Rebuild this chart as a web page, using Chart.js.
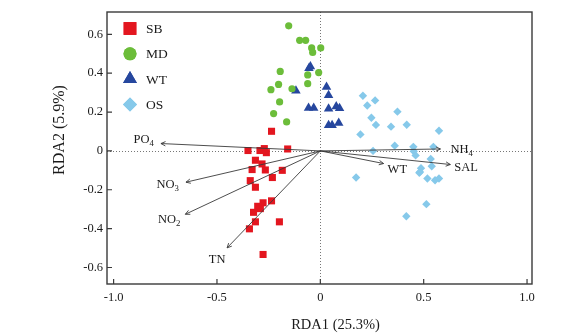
<!DOCTYPE html>
<html>
<head>
<meta charset="utf-8">
<script src="https://cdn.jsdelivr.net/npm/chart.js@4.4.0/dist/chart.umd.min.js"></script>
<style>
  html, body { margin: 0; padding: 0; background: #fff; }
  #wrap { width: 585px; height: 336px; position: relative; }
</style>
</head>
<body>
<div id="wrap"><canvas id="rdaChart"></canvas></div>
<script>
// site scores [RDA1, RDA2]
const sbPoints = [[-0.236, 0.101], [-0.350, 0.002], [-0.292, 0.002], [-0.271, 0.012], [-0.261, -0.009],
  [-0.158, 0.010], [-0.314, -0.048], [-0.282, -0.067], [-0.330, -0.096], [-0.266, -0.098],
  [-0.184, -0.100], [-0.232, -0.137], [-0.339, -0.153], [-0.314, -0.187], [-0.236, -0.257],
  [-0.277, -0.267], [-0.303, -0.285], [-0.290, -0.297], [-0.323, -0.316], [-0.314, -0.365],
  [-0.198, -0.365], [-0.343, -0.401], [-0.277, -0.533]];
const mdPoints = [[-0.153, 0.644], [-0.100, 0.569], [-0.071, 0.569], [-0.042, 0.530], [-0.037, 0.507],
  [0.002, 0.530], [-0.194, 0.409], [-0.008, 0.403], [-0.061, 0.391], [-0.202, 0.342],
  [-0.061, 0.346], [-0.239, 0.315], [-0.137, 0.320], [-0.197, 0.252], [-0.226, 0.192], [-0.163, 0.149]];
const wtPoints = [[-0.048, 0.435], [-0.055, 0.425], [-0.118, 0.310], [0.030, 0.329], [0.040, 0.286],
  [-0.057, 0.221], [-0.032, 0.221], [0.040, 0.217], [0.077, 0.228], [0.093, 0.219],
  [0.040, 0.132], [0.057, 0.132], [0.089, 0.144]];
const osPoints = [[0.206, 0.284], [0.265, 0.260], [0.227, 0.234], [0.373, 0.202], [0.247, 0.171],
  [0.269, 0.134], [0.342, 0.125], [0.418, 0.135], [0.574, 0.104], [0.194, 0.085],
  [0.360, 0.027], [0.450, 0.021], [0.547, 0.021], [0.255, 0.000], [0.452, -0.002],
  [0.461, -0.023], [0.534, -0.041], [0.539, -0.079], [0.487, -0.089], [0.482, -0.108],
  [0.479, -0.113], [0.518, -0.142], [0.555, -0.151], [0.574, -0.142], [0.173, -0.137],
  [0.513, -0.274], [0.416, -0.336]];

// environmental vectors
const envNames = ['PO4', 'NO3', 'NO2', 'TN', 'NH4', 'SAL', 'WT'];
const envX = [-0.771, -0.650, -0.653, -0.451, 0.581, 0.629, 0.306];
const envY = [0.038, -0.161, -0.326, -0.499, 0.010, -0.070, -0.065];

const xTicks = [-1.0, -0.5, 0, 0.5, 1.0];
const yTicks = [-0.6, -0.4, -0.2, 0, 0.2, 0.4, 0.6];
const xTitle = 'RDA1 (25.3%)';
const yTitle = 'RDA2 (5.9%)';

const SERIF = '"Liberation Serif", "Times New Roman", serif';

// where each vector label sits relative to its arrow tip
const labelPlace = {
  PO4: { dx: -7, dy: -4, align: 'right' },
  NO3: { dx: -7, dy: 3, align: 'right' },
  NO2: { dx: -5, dy: 5, align: 'right' },
  TN: { dx: -10, dy: 12, align: 'center' },
  NH4: { dx: 10, dy: 1, align: 'left' },
  SAL: { dx: 4, dy: 3, align: 'left' },
  WT: { dx: 4, dy: 6, align: 'left' }
};

const toXY = arr => arr.map(p => ({ x: p[0], y: p[1] }));

const groupSets = [
  { label: 'SB', data: toXY(sbPoints), pointStyle: 'rect', pointRadius: 5, backgroundColor: '#e3161f', legendR: 9 },
  { label: 'MD', data: toXY(mdPoints), pointStyle: 'circle', pointRadius: 3.6, backgroundColor: '#6cbd3a', legendR: 6.5 },
  { label: 'WT', data: toXY(wtPoints), pointStyle: 'triangle', pointRadius: 5.5, backgroundColor: '#26479e', legendR: 8 },
  { label: 'OS', data: toXY(osPoints), pointStyle: 'rectRot', pointRadius: 4.2, backgroundColor: '#86c9ea', legendR: 7 }
].map(d => Object.assign(d, { borderWidth: 0, pointHoverRadius: d.pointRadius }));

const arrowSets = envNames.map((name, i) => ({
  type: 'line',
  envName: name,
  data: [{ x: 0, y: 0 }, { x: envX[i], y: envY[i] }],
  borderColor: '#3a3a3a',
  borderWidth: 0.9,
  pointRadius: 0,
  showLine: true,
  fill: false
}));

function drawSubText(ctx, text, x, y, align, size) {
  // trailing digits are written as subscript
  const m = text.match(/^(.*?)(\d*)$/);
  const main = m[1], sub = m[2];
  ctx.font = size + 'px ' + SERIF;
  const w1 = ctx.measureText(main).width;
  ctx.font = (size * 0.7) + 'px ' + SERIF;
  const w2 = sub ? ctx.measureText(sub).width : 0;
  let left = x;
  if (align === 'right') left = x - w1 - w2;
  else if (align === 'center') left = x - (w1 + w2) / 2;
  ctx.textAlign = 'left';
  ctx.textBaseline = 'middle';
  ctx.font = size + 'px ' + SERIF;
  ctx.fillText(main, left, y);
  if (sub) {
    ctx.font = (size * 0.7) + 'px ' + SERIF;
    ctx.fillText(sub, left + w1, y + 4);
  }
}

const rdaDecor = {
  id: 'rdaDecor',
  beforeDatasetsDraw(chart) {
    const { ctx, chartArea: a, scales: { x, y } } = chart;
    ctx.save();
    ctx.strokeStyle = '#777';
    ctx.lineWidth = 1;
    ctx.setLineDash([1, 2]);
    const x0 = Math.round(x.getPixelForValue(0)) + 0.5;
    const y0 = Math.round(y.getPixelForValue(0)) + 0.5;
    ctx.beginPath();
    ctx.moveTo(x0, a.top); ctx.lineTo(x0, a.bottom);
    ctx.moveTo(a.left, y0); ctx.lineTo(a.right, y0);
    ctx.stroke();
    ctx.restore();
  },
  afterDatasetsDraw(chart) {
    const { ctx, chartArea: a, scales: { x, y } } = chart;
    ctx.save();

    // arrow heads and vector labels
    chart.data.datasets.forEach((ds, i) => {
      if (!ds.envName) return;
      const pts = chart.getDatasetMeta(i).data;
      const p0 = pts[0], p1 = pts[1];
      const ang = Math.atan2(p1.y - p0.y, p1.x - p0.x);
      ctx.strokeStyle = '#3a3a3a';
      ctx.lineWidth = 0.9;
      ctx.beginPath();
      ctx.moveTo(p1.x - 5 * Math.cos(ang - 0.45), p1.y - 5 * Math.sin(ang - 0.45));
      ctx.lineTo(p1.x, p1.y);
      ctx.lineTo(p1.x - 5 * Math.cos(ang + 0.45), p1.y - 5 * Math.sin(ang + 0.45));
      ctx.stroke();
      const lp = labelPlace[ds.envName];
      ctx.fillStyle = '#1a1a1a';
      drawSubText(ctx, ds.envName, p1.x + lp.dx, p1.y + lp.dy, lp.align, 12.5);
    });

    // frame
    ctx.strokeStyle = '#3a3a3a';
    ctx.lineWidth = 1.4;
    ctx.strokeRect(a.left, a.top, a.right - a.left, a.bottom - a.top);

    // inner tick marks
    ctx.lineWidth = 1.2;
    ctx.beginPath();
    xTicks.forEach(v => {
      const px = x.getPixelForValue(v);
      ctx.moveTo(px, a.bottom); ctx.lineTo(px, a.bottom - 5);
    });
    yTicks.forEach(v => {
      const py = y.getPixelForValue(v);
      ctx.moveTo(a.left, py); ctx.lineTo(a.left + 5, py);
    });
    ctx.stroke();

    // legend inside plot
    const groups = chart.data.datasets.filter(d => !d.envName);
    groups.forEach((d, k) => {
      const cy = 28.5 + k * 25.3;
      ctx.fillStyle = d.backgroundColor;
      Chart.helpers.drawPoint(ctx, { pointStyle: d.pointStyle, radius: d.legendR, rotation: 0, borderWidth: 0 }, 130, cy);
      ctx.fill();
      ctx.fillStyle = '#1a1a1a';
      ctx.font = '13.5px ' + SERIF;
      ctx.textAlign = 'left';
      ctx.textBaseline = 'middle';
      ctx.fillText(d.label, 146, cy + 1);
    });

    // axis titles
    ctx.fillStyle = '#1a1a1a';
    ctx.font = '14.5px ' + SERIF;
    ctx.textAlign = 'center';
    ctx.textBaseline = 'middle';
    ctx.fillText(xTitle, 335.5, 325);
    ctx.translate(60, 130);
    ctx.rotate(-Math.PI / 2);
    ctx.font = '16px ' + SERIF;
    ctx.fillText(yTitle, 0, 0);
    ctx.restore();
  }
};

const tickFmt = v => (Math.abs(v) < 1e-9 ? '0' : Number(v).toFixed(1));

new Chart(document.getElementById('rdaChart'), {
  type: 'scatter',
  data: { datasets: arrowSets.concat(groupSets) },
  options: {
    responsive: true,
    maintainAspectRatio: false,
    animation: false,
    layout: { padding: { left: 0, top: 12, right: 53, bottom: 0 } },
    plugins: { legend: { display: false }, tooltip: { enabled: false } },
    scales: {
      x: {
        type: 'linear',
        min: -1.032,
        max: 1.024,
        afterFit: s => { s.height = 52; },
        afterBuildTicks: s => { s.ticks = xTicks.map(v => ({ value: v })); },
        grid: { display: false, drawTicks: false },
        border: { display: false },
        ticks: { callback: tickFmt, padding: 6, color: '#1a1a1a', maxRotation: 0, font: { family: SERIF, size: 12.5 } }
      },
      y: {
        type: 'linear',
        min: -0.685,
        max: 0.715,
        afterFit: s => { s.width = 107; },
        afterBuildTicks: s => { s.ticks = yTicks.map(v => ({ value: v })); },
        grid: { display: false, drawTicks: false },
        border: { display: false },
        ticks: { callback: tickFmt, padding: 4, color: '#1a1a1a', font: { family: SERIF, size: 12.5 } }
      }
    }
  },
  plugins: [rdaDecor]
});
</script>
</body>
</html>
